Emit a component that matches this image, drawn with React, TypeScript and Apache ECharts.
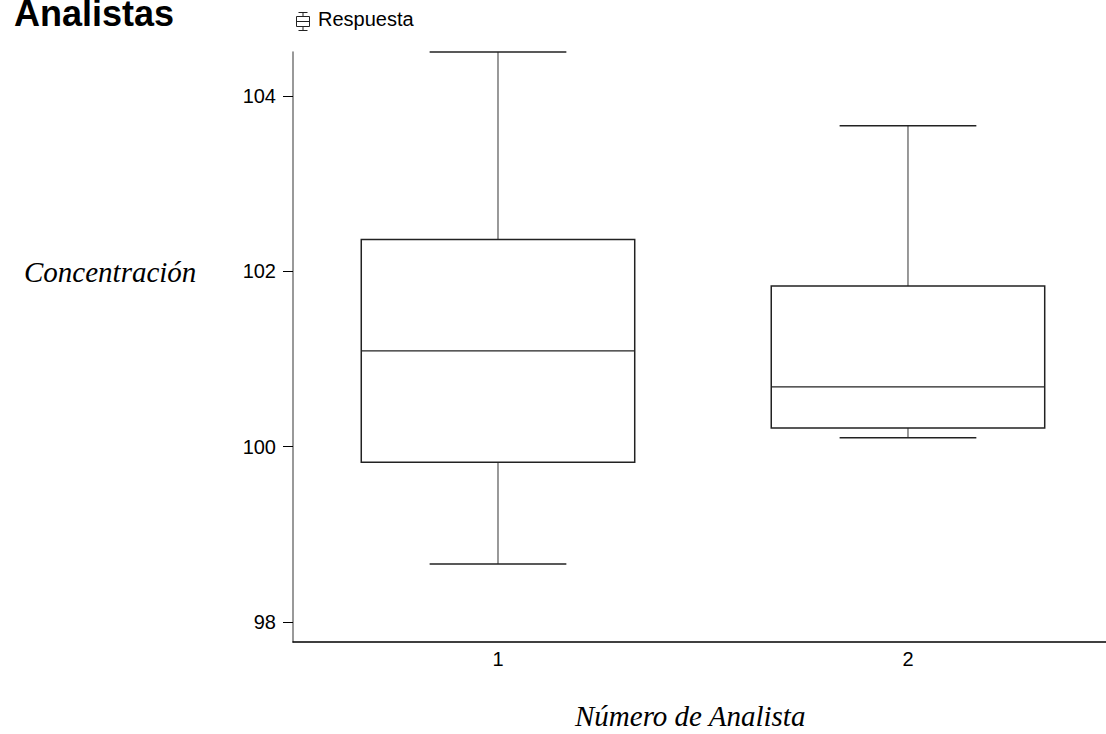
import React, { useEffect, useRef } from "react";
import * as echarts from "echarts";

const categories = ["1", "2"];
// [min, Q1, median, Q3, max]
const analyst1 = [98.66, 99.82, 101.09, 102.36, 104.5];
const analyst2 = [100.1, 100.21, 100.68, 101.83, 103.66];
const yTicks = [98, 100, 102, 104];
const xTicks = [1, 2];
const yMin = 97.77;
const yMax = 104.5;
const xMin = 0.5;
const xMax = 2.483;

export default function App() {
  const ref = useRef<HTMLDivElement>(null);
  useEffect(() => {
    document.body.style.margin = "0";
    const chart = echarts.init(ref.current!, null, { renderer: "svg" });
    const boxData = [analyst1, analyst2].map((d, i) => [i + 1, ...d]);
    chart.setOption({
      animation: false,
      backgroundColor: "#ffffff",
      grid: { left: 293, top: 52, right: 0, height: 590 },
      xAxis: {
        type: "value",
        min: xMin,
        max: xMax,
        axisLine: { show: true, lineStyle: { color: "#000", width: 1.5 } },
        axisTick: { show: false },
        axisLabel: {
          customValues: xTicks,
          formatter: (v: number) => categories[Math.round(v) - 1] ?? "",
          color: "#000",
          fontSize: 20,
          fontFamily: "Arial, 'Liberation Sans'",
          margin: 7,
        },
        splitLine: { show: false },
      },
      yAxis: {
        type: "value",
        min: yMin,
        max: yMax,
        axisLine: { show: true, lineStyle: { color: "#777", width: 1.5 } },
        axisTick: { show: true, length: 10, customValues: yTicks, lineStyle: { color: "#000", width: 1 } },
        axisLabel: { customValues: yTicks, color: "#000", fontSize: 20, fontFamily: "Arial, 'Liberation Sans'", margin: 17 },
        splitLine: { show: false },
      },
      series: [
        {
          type: "custom",
          name: "Respuesta",
          data: boxData,
          encode: { x: 0, y: [1, 2, 3, 4, 5] },
          renderItem: (params: any, api: any) => {
            const x = api.value(0);
            const pMin = api.coord([x, api.value(1)]);
            const pQ1 = api.coord([x, api.value(2)]);
            const pMed = api.coord([x, api.value(3)]);
            const pQ3 = api.coord([x, api.value(4)]);
            const pMax = api.coord([x, api.value(5)]);
            const w = api.size([1, 0])[0] * 0.667;
            const cx = pMed[0];
            const half = w / 2;
            const cap = w / 4;
            return {
              type: "group",
              children: [
                { type: "line", shape: { x1: cx, y1: pMax[1], x2: cx, y2: pQ3[1] }, style: { stroke: "#777", lineWidth: 1.5 } },
                { type: "line", shape: { x1: cx, y1: pQ1[1], x2: cx, y2: pMin[1] }, style: { stroke: "#777", lineWidth: 1.5 } },
                { type: "line", shape: { x1: cx - cap, y1: pMax[1], x2: cx + cap, y2: pMax[1] }, style: { stroke: "#222", lineWidth: 1.5 } },
                { type: "line", shape: { x1: cx - cap, y1: pMin[1], x2: cx + cap, y2: pMin[1] }, style: { stroke: "#222", lineWidth: 1.5 } },
                {
                  type: "rect",
                  shape: { x: cx - half, y: pQ3[1], width: w, height: pQ1[1] - pQ3[1] },
                  style: { fill: "#fff", stroke: "#222", lineWidth: 1.5 },
                },
                { type: "line", shape: { x1: cx - half, y1: pMed[1], x2: cx + half, y2: pMed[1] }, style: { stroke: "#222", lineWidth: 1.2 } },
              ],
            };
          },
        },
      ],
      graphic: [
        {
          type: "text",
          left: 14,
          top: -5,
          style: { text: "Analistas", font: "bold 36px Arial, 'Liberation Sans'", fill: "#000" },
        },
        {
          type: "group",
          left: 294,
          top: 10,
          children: [
            { type: "line", shape: { x1: 2.5, y1: 0.5, x2: 11.5, y2: 0.5 }, style: { stroke: "#222", lineWidth: 1 } },
            { type: "line", shape: { x1: 7, y1: 0.5, x2: 7, y2: 18.5 }, style: { stroke: "#222", lineWidth: 1 } },
            { type: "rect", shape: { x: 0.5, y: 4.5, width: 13, height: 10 }, style: { stroke: "#222", fill: "#fff", lineWidth: 1 } },
            { type: "line", shape: { x1: 0.5, y1: 9.5, x2: 13.5, y2: 9.5 }, style: { stroke: "#222", lineWidth: 1 } },
            { type: "line", shape: { x1: 2.5, y1: 18.5, x2: 11.5, y2: 18.5 }, style: { stroke: "#222", lineWidth: 1 } },
          ],
        },
        {
          type: "text",
          left: 318,
          top: 9,
          style: { text: "Respuesta", font: "20px Arial, 'Liberation Sans'", fill: "#000" },
        },
        {
          type: "text",
          left: 24,
          top: 257,
          style: { text: "Concentración", font: "italic 29px 'Times New Roman', 'Liberation Serif'", fill: "#000" },
        },
        {
          type: "text",
          left: 575,
          top: 701,
          style: { text: "Número de Analista", font: "italic 29px 'Times New Roman', 'Liberation Serif'", fill: "#000" },
        },
      ],
    });
    return () => chart.dispose();
  }, []);
  return <div ref={ref} style={{ width: 1106, height: 734 }} />;
}
